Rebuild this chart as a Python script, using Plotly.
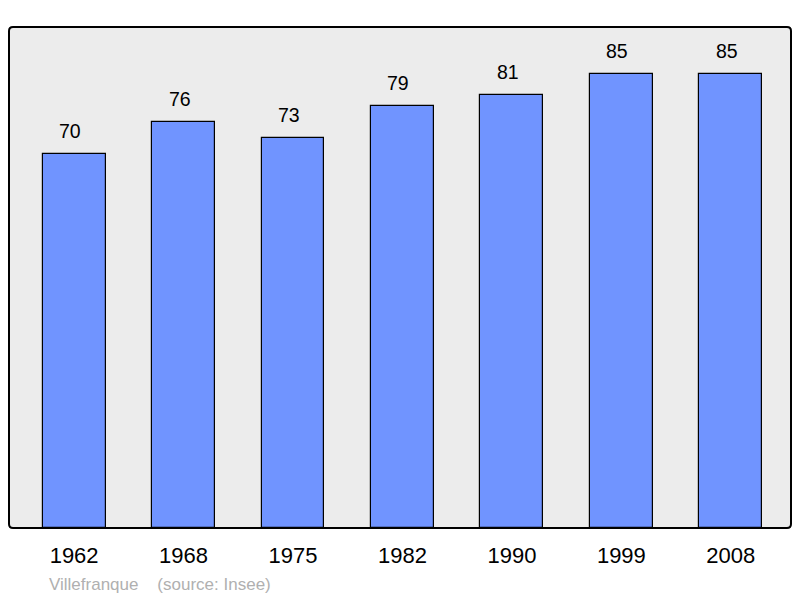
import plotly.graph_objects as go

years = ["1962", "1968", "1975", "1982", "1990", "1999", "2008"]
population = [70, 76, 73, 79, 81, 85, 85]
footer_text = "Villefranque\u00a0\u00a0\u00a0\u00a0(source: Insee)"

xs = list(range(len(years)))
FONT = "Liberation Sans, Arial, sans-serif"

fig = go.Figure()
fig.add_trace(go.Bar(
    x=xs, y=population, width=0.575,
    marker=dict(color="#7094ff", line=dict(color="#000000", width=1.2)),
    hoverinfo="skip",
))

for xi, v in zip(xs, population):
    fig.add_annotation(x=xi, y=v, text=str(v), showarrow=False,
                       yanchor="middle", yshift=23, xshift=-4,
                       font=dict(family=FONT, size=19.5, color="#000"))

fig.add_annotation(xref="paper", yref="paper", x=0.0485, y=-0.112,
                   xanchor="left", yanchor="middle", text=footer_text, showarrow=False,
                   font=dict(family=FONT, size=17, color="#b0b0b0"))

rx, ry = 4 / 782, 4 / 501
path = (f"M {rx},0 L {1-rx},0 Q 1,0 1,{ry} L 1,{1-ry} Q 1,1 {1-rx},1 "
        f"L {rx},1 Q 0,1 0,{1-ry} L 0,{ry} Q 0,0 {rx},0 Z")
fig.add_shape(type="path", xref="paper", yref="paper", path=path,
              line=dict(color="#000000", width=2), layer="above")

fig.update_layout(
    width=792, height=590,
    margin=dict(l=1, r=9, t=19, b=70),
    paper_bgcolor="#ffffff", plot_bgcolor="#ececec",
    showlegend=False,
    bargap=0,
    xaxis=dict(range=[-0.595, 6.55], tickvals=xs, ticktext=years, showgrid=False,
               zeroline=False, ticks="", showline=False, ticklabelstandoff=12,
               tickfont=dict(family=FONT, size=22, color="#000")),
    yaxis=dict(range=[0, 93.8], showticklabels=False, showgrid=False, zeroline=False,
               ticks="", showline=False),
)

fig.write_html("out.html")
